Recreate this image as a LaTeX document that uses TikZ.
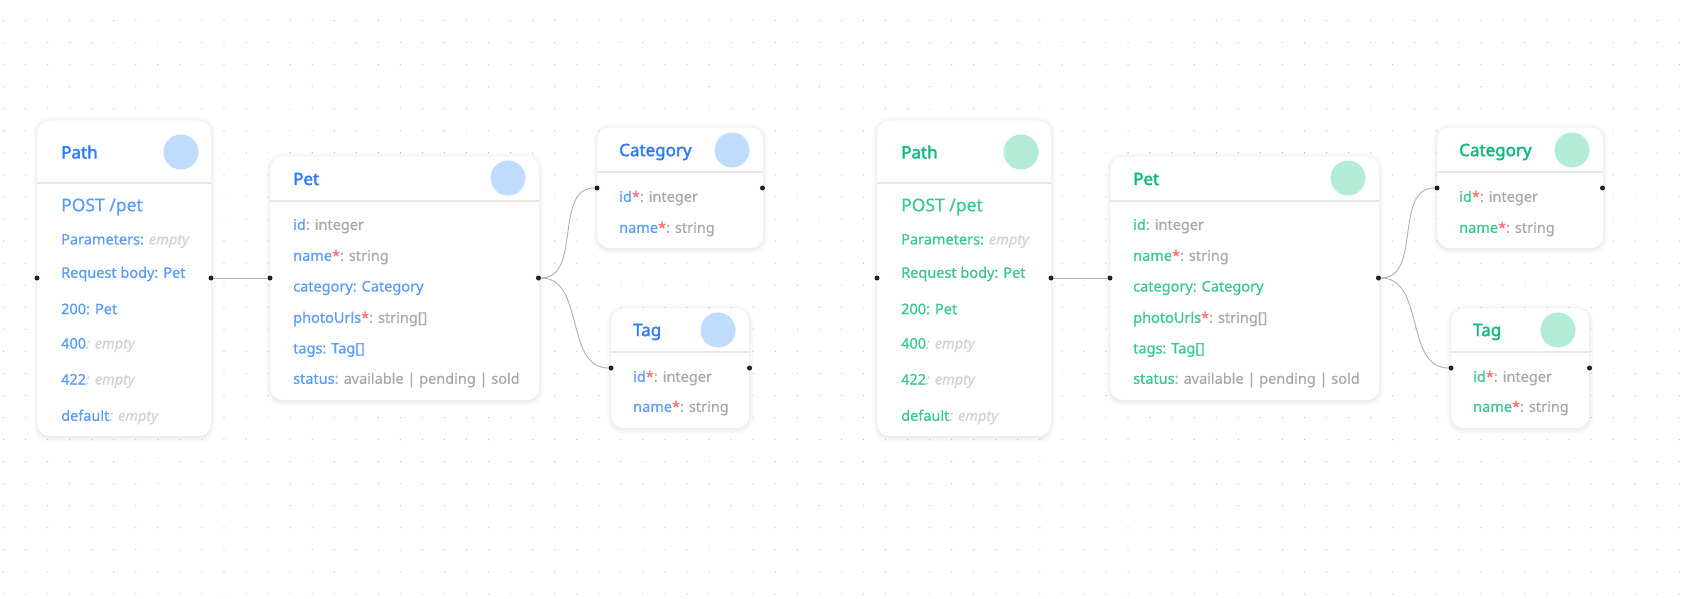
\documentclass[tikz,border=0pt]{standalone}
\usepackage{fontspec}
\setmainfont{Noto Sans}[AutoFakeBold=2.5]
\newfontfamily\titlefont{Noto Sans}[FakeBold=2.2]
\newfontfamily\rowfont{Noto Sans}[FakeBold=0.6]
\usetikzlibrary{shadows.blur}
\definecolor{blueTitle}{HTML}{2F7CF6}
\definecolor{blueLabel}{HTML}{5A9CF8}
\definecolor{blueBadge}{HTML}{BFDBFE}
\definecolor{greenTitle}{HTML}{10B981}
\definecolor{greenLabel}{HTML}{38C98F}
\definecolor{greenBadge}{HTML}{B2ECD6}
\definecolor{typegray}{HTML}{A9A9A9}
\definecolor{emptygray}{HTML}{D2D2D2}
\definecolor{reqred}{HTML}{F87171}
\definecolor{portdark}{HTML}{1E1E2E}
\definecolor{linkgray}{HTML}{B0B0B0}
\definecolor{sepgray}{HTML}{E8E8E8}
\definecolor{griddot}{HTML}{C4C4C4}
\newcommand\ty[1]{\textcolor{typegray}{#1}}
\newcommand\emp[1]{\textcolor{emptygray}{\itshape #1}}
\newcommand\req{\textcolor{reqred}{*}}
\tikzset{
	card/.style     = {shape=rectangle, rounded corners=12pt,
		fill=white, draw=black!5, anchor=north west, inner sep=0pt,
		blur shadow={shadow xshift=0pt, shadow yshift=-1.5pt,
			shadow blur radius=5pt, shadow opacity=14}},
	sepline/.style  = {draw=sepgray, line width=1.6pt},
	cardtitle/.style= {anchor=west, inner sep=0pt,
		font=\fontsize{17}{20}\selectfont\titlefont},
	verb/.style     = {anchor=west, inner sep=0pt,
		font=\fontsize{17.5}{20}\selectfont\rowfont},
	row/.style      = {anchor=west, inner sep=0pt,
		font=\fontsize{14.5}{17}\selectfont\rowfont},
	badge/.style    = {circle, minimum size=35pt, inner sep=0pt},
	port/.style     = {circle, fill=portdark, minimum size=5pt, inner sep=0pt},
	link/.style     = {draw=linkgray, line width=0.9pt}
}

\begin{document}
\begin{tikzpicture}[x=1pt, y=-1pt]
	\useasboundingbox (0,0) rectangle (1682,598);
	% dotted canvas
	\foreach \i in {0,...,76}
		\foreach \j in {0,...,26}
			\fill[griddot] (3.5+22.05*\i, 20.6+22.05*\j) circle (0.65pt);

	\foreach \g/\dx/\ti/\la/\bd in {A/0/blueTitle/blueLabel/blueBadge,
			B/840/greenTitle/greenLabel/greenBadge} {
		\begin{scope}[xshift=\dx pt]
			% path card
			\node [card, minimum width=174pt, minimum height=316pt] at (37,120) (path\g) {};
			\draw [sepline] ([yshift=-63pt]path\g.north west) -- ([yshift=-63pt]path\g.north east);
			\node [cardtitle, text=\ti] at (61,152) (pathT\g) {Path};
			\node [badge, fill=\bd] at (181,152) (pathC\g) {};
			\node [verb, text=\la] at (61,207) (verb\g) {POST /pet};
			\node [row, text=\la] at (61,241) (params\g) {Parameters: \emp{empty}};
			\node [row, text=\la] at (61,274) (body\g) {Request body: Pet};
			\node [row, text=\la] at (61,309) (ok\g) {200: Pet};
			\node [row, text=\la] at (61,345) (bad\g) {400\emp{: empty}};
			\node [row, text=\la] at (61,381) (unproc\g) {422\emp{: empty}};
			\node [row, text=\la] at (61,417) (default\g) {default\emp{: empty}};

			% pet card
			\node [card, minimum width=269pt, minimum height=244pt] at (270,156) (pet\g) {};
			\draw [sepline] ([yshift=-45pt]pet\g.north west) -- ([yshift=-45pt]pet\g.north east);
			\node [cardtitle, text=\ti] at (293,179) (petT\g) {Pet};
			\node [badge, fill=\bd] at (508,178) (petC\g) {};
			\node [row, text=\la] at (293,226) (petId\g) {id\ty{: integer}};
			\node [row, text=\la] at (293,257) (petName\g) {name\req\ty{: string}};
			\node [row, text=\la] at (293,288) (petCat\g) {category: Category};
			\node [row, text=\la] at (293,319) (petPhoto\g) {photoUrls\req\ty{: string[]}};
			\node [row, text=\la] at (293,350) (petTags\g) {tags: Tag[]};
			\node [row, text=\la] at (293,380) (petStatus\g) {status\ty{: available | pending | sold}};

			% category card
			\node [card, minimum width=166pt, minimum height=121pt] at (597,127) (cat\g) {};
			\draw [sepline] ([yshift=-45pt]cat\g.north west) -- ([yshift=-45pt]cat\g.north east);
			\node [cardtitle, text=\ti] at (619,152) (catT\g) {Category};
			\node [badge, fill=\bd] at (732,150) (catC\g) {};
			\node [row, text=\la] at (619,198) (catId\g) {id\req\ty{: integer}};
			\node [row, text=\la] at (619,229) (catName\g) {name\req\ty{: string}};

			% tag card
			\node [card, minimum width=138pt, minimum height=120pt] at (611,308) (tag\g) {};
			\draw [sepline] ([yshift=-44pt]tag\g.north west) -- ([yshift=-44pt]tag\g.north east);
			\node [cardtitle, text=\ti] at (633,332) (tagT\g) {Tag};
			\node [badge, fill=\bd] at (718,330) (tagC\g) {};
			\node [row, text=\la] at (633,378) (tagId\g) {id\req\ty{: integer}};
			\node [row, text=\la] at (633,408) (tagName\g) {name\req\ty{: string}};

			% ports
			\node [port] at (37,278) (pathL\g) {};
			\node [port] at (211,278) (pathR\g) {};
			\node [port] at (270,278) (petL\g) {};
			\node [port] at (538.5,278) (petR\g) {};
			\node [port] at (597,188) (catL\g) {};
			\node [port] at (762.5,188) (catR\g) {};
			\node [port] at (611,368) (tagL\g) {};
			\node [port] at (749.5,368) (tagR\g) {};

			% links
			\draw [link] (pathR\g) -- (petL\g);
			\draw [link] (petR\g) to[out=0, in=180] (catL\g);
			\draw [link] (petR\g) to[out=0, in=180] (tagL\g);
		\end{scope}
	}
\end{tikzpicture}
\end{document}
